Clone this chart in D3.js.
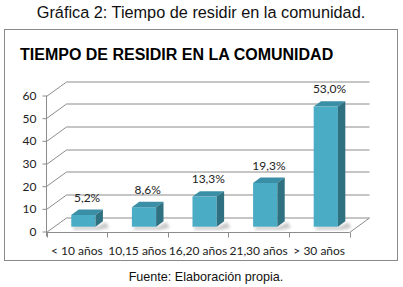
<!DOCTYPE html>
<html>
<head>
<meta charset="utf-8">
<script src="https://cdn.jsdelivr.net/npm/d3@7"></script>
<style>
  body { margin: 0; background: #fff; }
  svg { display: block; }
</style>
</head>
<body>
<div id="chart"></div>
<script>
// Chart data.
const categories = ["< 10 años", "10,15 años", "16,20 años", "21,30 años", "> 30 años"];
const values = [5.2, 8.6, 13.3, 19.3, 53.0];
const yTicks = [0, 10, 20, 30, 40, 50, 60];

const WIDTH = 403, HEIGHT = 287;
const DEPTH = { x: 20, y: -14.5 };   // full floor depth of the 3D box
const BAR_FRONT = 0.33;              // where the bars start inside the depth
const BAR_DEPTH = 0.37;              // how deep each bar is
const GRID = "#8c8c8c";

const svg = d3.select("#chart")
    .append("svg")
    .attr("width", WIDTH)
    .attr("height", HEIGHT);

svg.append("text")
    .attr("x", 201)
    .attr("y", 18)
    .attr("text-anchor", "middle")
    .style("font-family", "Liberation Sans, Arial, sans-serif")
    .style("font-size", "16.3px")
    .style("fill", "#111")
    .text("Gráfica 2: Tiempo de residir en la comunidad.");

svg.append("rect")
    .attr("x", 4.5).attr("y", 29.5)
    .attr("width", 393).attr("height", 231)
    .attr("fill", "#fff")
    .attr("stroke", "#8a8a8a");

svg.append("text")
    .attr("x", 20)
    .attr("y", 60)
    .style("font-family", "Liberation Sans, Arial, sans-serif")
    .style("font-size", "16px")
    .style("font-weight", "bold")
    .style("fill", "#000")
    .text("TIEMPO DE RESIDIR EN LA COMUNIDAD");

svg.append("text")
    .attr("x", 206)
    .attr("y", 281)
    .attr("text-anchor", "middle")
    .style("font-family", "Liberation Sans, Arial, sans-serif")
    .style("font-size", "12.6px")
    .style("fill", "#111")
    .text("Fuente: Elaboración propia.");

// Front plane scales; the back wall is the same plane shifted by DEPTH.
const xScale = d3.scaleBand()
    .domain(categories)
    .range([46.5, 349.5]);

const yScale = d3.scaleLinear()
    .domain([0, 60])
    .range([231.5, 95.5]);

const chart = svg.append("g");
const fontAxis = "Lato, 'Open Sans', sans-serif";

// Gridlines: diagonal on the side wall, then flat along the back wall.
yTicks.forEach(t => {
    const y = Math.round(yScale(t)) + 0.5;
    const x0 = xScale.range()[0];
    chart.append("path")
        .attr("fill", "none")
        .attr("stroke", GRID)
        .attr("d", `M${x0},${y} L${x0 + DEPTH.x},${y + DEPTH.y} L${xScale.range()[1] + DEPTH.x},${y + DEPTH.y}`);
});

// Floor right edge and front edge.
{
    const y0 = Math.round(yScale(0)) + 0.5;
    const [xl, xr] = xScale.range();
    chart.append("path")
        .attr("fill", "none")
        .attr("stroke", GRID)
        .attr("d", `M${xl},${y0} L${xr},${y0} L${xr + DEPTH.x},${y0 + DEPTH.y}`);
}

// Y axis drawn by d3, restyled to the grey look.
const yAxis = chart.append("g")
    .attr("transform", `translate(${xScale.range()[0]},0)`)
    .call(d3.axisLeft(yScale).tickValues(yTicks).tickSize(4).tickPadding(6));

yAxis.select(".domain").attr("stroke", GRID).attr("d", `M0,${yScale(60)}V${yScale(0) + 5}`);
yAxis.selectAll(".tick line").attr("stroke", GRID);
yAxis.selectAll(".tick text")
    .style("font-family", fontAxis)
    .style("font-size", "12px")
    .attr("fill", "#222");

// X axis with ticks at the band edges.
const xAxis = chart.append("g")
    .attr("transform", `translate(0,${Math.round(yScale(0)) + 0.5})`)
    .call(d3.axisBottom(xScale).tickSize(0).tickPadding(14));

xAxis.select(".domain").remove();
xAxis.selectAll(".tick text")
    .style("font-family", fontAxis)
    .style("font-size", "12px")
    .attr("fill", "#222");

xAxis.selectAll(".edge")
    .data(categories.map(c => xScale(c)).concat([xScale.range()[1]]))
    .join("line")
    .attr("x1", d => Math.round(d) + 0.5)
    .attr("x2", d => Math.round(d) + 0.5)
    .attr("y1", 0)
    .attr("y2", 5)
    .attr("stroke", GRID);

// Soft shadow under each bar.
const defs = svg.append("defs");
defs.append("filter").attr("id", "blur")
    .append("feGaussianBlur").attr("stdDeviation", 1.6);

const barW = xScale.bandwidth() * 0.4;
const fx = DEPTH.x * BAR_FRONT, fy = DEPTH.y * BAR_FRONT;
const dx = DEPTH.x * BAR_DEPTH, dy = DEPTH.y * BAR_DEPTH;

const bars = chart.selectAll(".bar")
    .data(values.map((v, i) => ({ cat: categories[i], v })))
    .join("g")
    .attr("class", "bar");

const geo = d => {
    const x0 = xScale(d.cat) + (xScale.bandwidth() - barW) / 2 + fx;
    const yb = yScale(0) + fy;
    const yt = yScale(d.v) + fy;
    return { x0, x1: x0 + barW, yb, yt };
};

bars.append("path")
    .attr("fill", "#9a9a9a")
    .attr("opacity", 0.55)
    .attr("filter", "url(#blur)")
    .attr("d", d => {
        const g = geo(d);
        return `M${g.x0 + 2},${g.yb} L${g.x1 + 2},${g.yb} L${g.x1 + dx + 3},${g.yb + dy + 1} L${g.x1 + dx + 6},${g.yb + 1} L${g.x1 + 4},${g.yb + 3} L${g.x0 + 2},${g.yb + 3}Z`;
    });

bars.append("rect")
    .attr("x", d => geo(d).x0)
    .attr("y", d => geo(d).yt)
    .attr("width", barW)
    .attr("height", d => geo(d).yb - geo(d).yt)
    .attr("fill", "#4bacc6");

bars.append("path")
    .attr("fill", "#3a8fa6")
    .attr("d", d => {
        const g = geo(d);
        return `M${g.x0},${g.yt} L${g.x1},${g.yt} L${g.x1 + dx},${g.yt + dy} L${g.x0 + dx},${g.yt + dy}Z`;
    });

bars.append("path")
    .attr("fill", "#2f7081")
    .attr("d", d => {
        const g = geo(d);
        return `M${g.x1},${g.yt} L${g.x1 + dx},${g.yt + dy} L${g.x1 + dx},${g.yb + dy} L${g.x1},${g.yb}Z`;
    });

// Percentage labels above each bar.
const fmt = d3.formatLocale({ decimal: ",", thousands: ".", grouping: [3], currency: ["", ""] }).format(".1f");

bars.append("text")
    .attr("x", d => geo(d).x0 + (barW + dx) / 2)
    .attr("y", d => geo(d).yt + dy - 8)
    .attr("text-anchor", "middle")
    .style("font-family", fontAxis)
    .style("font-size", "12px")
    .attr("fill", "#222")
    .text(d => fmt(d.v) + "%");
</script>
</body>
</html>
